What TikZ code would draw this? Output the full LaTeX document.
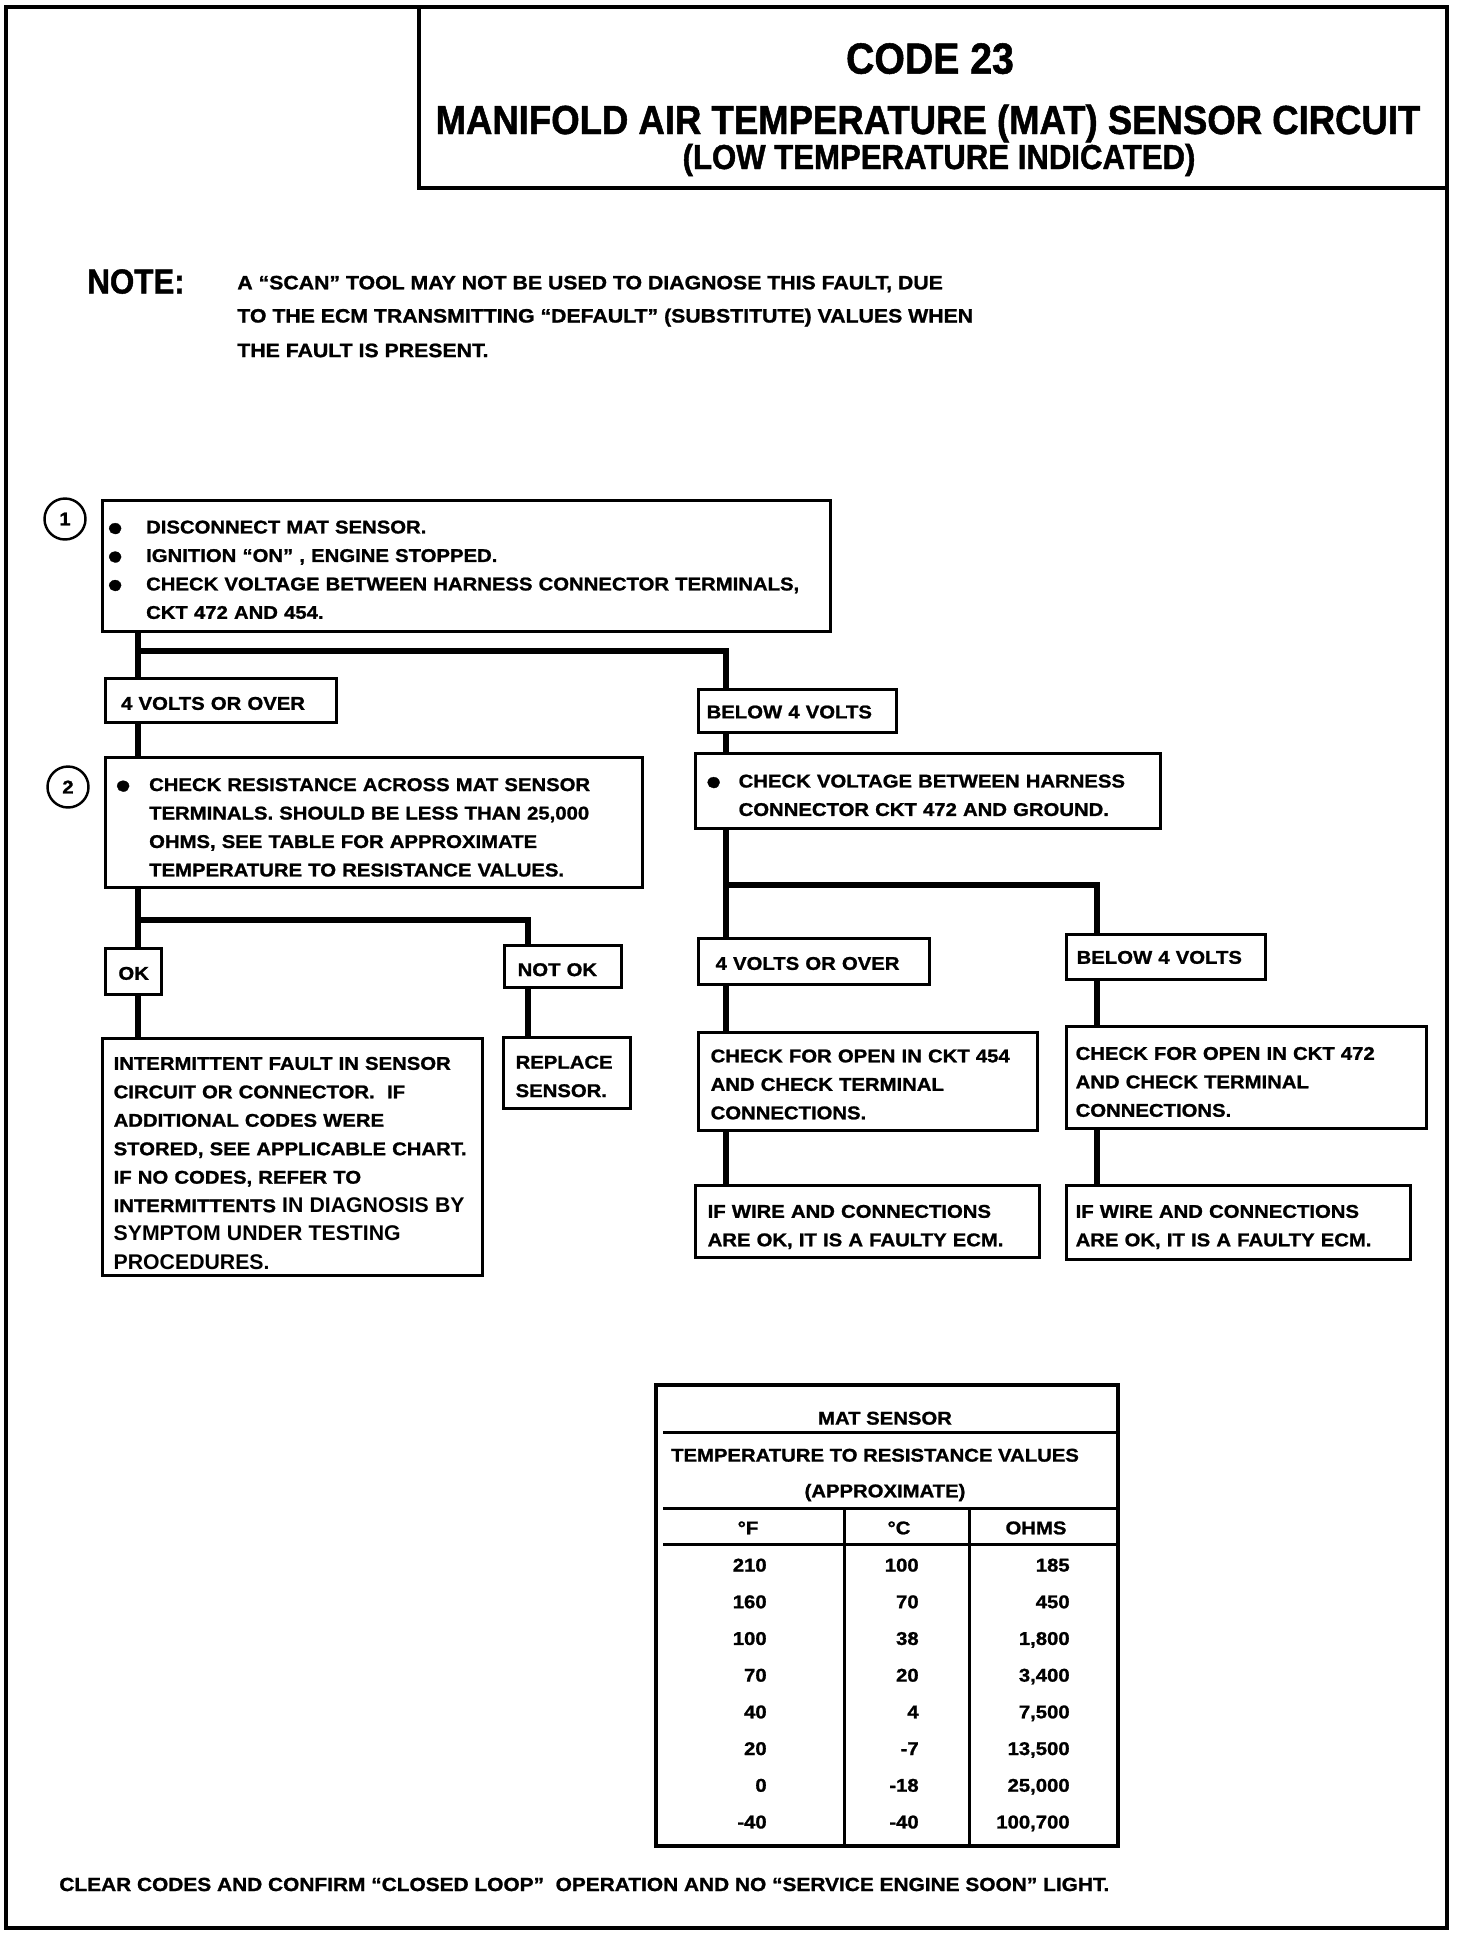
\documentclass[tikz,border=0pt]{standalone}
\usepackage{fontspec}
\usepackage{graphicx}
\usepackage{tikz}
\usetikzlibrary{positioning}
\setmainfont{Liberation Sans}
\newfontfamily\bodyfont{Liberation Sans}[FakeStretch=1.10, FakeBold=1.2]
\newfontfamily\titlefont{Liberation Sans}[FakeStretch=0.90, FakeBold=1.2]
\newcommand{\bodytext}{\bodyfont\bfseries\fontsize{10.5pt}{16.2pt}\selectfont}
\newcommand{\plaintext}{\normalfont\bfseries\fontsize{12.1pt}{16.2pt}\selectfont}
\newcommand{\blt}[2]{\makebox[#1][l]{\hspace{#2}\raisebox{-1.3pt}{\fontsize{14.5pt}{14.5pt}\selectfont ●}}}
\newcommand{\padtop}[1]{\rule{0pt}{#1}}

\begin{document}
\begin{tikzpicture}[x=0.02cm,y=-0.02cm,
	main box/.style={draw, line width=1.9pt, anchor=north west, inner ysep=0pt, inner xsep=0.22cm, align=left, font=\bodytext},
	step num/.style={circle, draw, line width=1.4pt, minimum size=0.82cm, inner sep=0pt, font=\bodytext},
	link/.style={line width=3.4pt},
	cell/.style={anchor=base, inner sep=0pt, font=\bodytext},
	num cell/.style={anchor=base east, inner sep=0pt, font=\bodytext}]

	\fill[white] (0,0) rectangle (1472,1934);
	\useasboundingbox (0,0) rectangle (1472,1934);

	% frame and title
	\draw[line width=2.4pt] (6,7) rectangle (1447,1928);
	\draw[line width=2pt] (419,7) -- (419,188) -- (1447,188);
	\node[anchor=base, inner sep=0pt, font=\titlefont\bfseries\fontsize{24.8pt}{26pt}\selectfont](code) at (930,73.6){CODE 23};
	\node[anchor=base, inner sep=0pt, font=\titlefont\bfseries\fontsize{23.1pt}{25pt}\selectfont](title) at (928,134){MANIFOLD AIR TEMPERATURE (MAT) SENSOR CIRCUIT};
	\node[anchor=base, inner sep=0pt, font=\titlefont\bfseries\fontsize{19.7pt}{21pt}\selectfont](subtitle) at (939,169){(LOW TEMPERATURE INDICATED)};

	% note
	\node[anchor=base west, inner sep=0pt, font=\titlefont\bfseries\fontsize{19.8pt}{22pt}\selectfont](note) at (87,293.5){NOTE:};
	\node[anchor=base west, inner sep=0pt, font=\bodytext\fontsize{11pt}{16pt}\selectfont](N1) at (237,289.3){A “SCAN” TOOL MAY NOT BE USED TO DIAGNOSE THIS FAULT, DUE};
	\node[anchor=base west, inner sep=0pt, font=\bodytext\fontsize{11pt}{16pt}\selectfont](N2) at (237,322.5){TO THE ECM TRANSMITTING “DEFAULT” (SUBSTITUTE) VALUES WHEN};
	\node[anchor=base west, inner sep=0pt, font=\bodytext\fontsize{11pt}{16pt}\selectfont](N3) at (237,357.1){THE FAULT IS PRESENT.};

	% step 1
	\node[step num](C1) at (65,519){1};
	\node[main box, minimum width=14.56cm, minimum height=2.62cm, text width=14.12cm](S1) at (101,499){%
		\padtop{11.5pt}\blt{0.65cm}{-0.14cm}DISCONNECT MAT SENSOR.\\
		\blt{0.65cm}{-0.14cm}IGNITION “ON” , ENGINE STOPPED.\\
		\blt{0.65cm}{-0.14cm}CHECK VOLTAGE BETWEEN HARNESS CONNECTOR TERMINALS,\\
		\hspace*{0.65cm}CKT 472 AND 454.};
	\node[main box, minimum width=4.62cm, minimum height=0.88cm, inner xsep=0.31cm, text width=4.00cm](V1) at (104,677){\padtop{10.5pt}4 VOLTS OR OVER};
	\node[main box, minimum width=3.96cm, minimum height=0.86cm, inner xsep=0.16cm, text width=3.64cm](B1) at (697,688){\padtop{8.3pt}BELOW 4 VOLTS};

	% step 2
	\node[step num](C2) at (68,787){2};
	\node[main box, minimum width=10.74cm, minimum height=2.60cm, inner xsep=0.20cm, text width=10.34cm](S2) at (104,756){%
		\padtop{12.7pt}\blt{0.67cm}{-0.02cm}CHECK RESISTANCE ACROSS MAT SENSOR\\
		\hspace*{0.67cm}TERMINALS. SHOULD BE LESS THAN 25,000\\
		\hspace*{0.67cm}OHMS, SEE TABLE FOR APPROXIMATE\\
		\hspace*{0.67cm}TEMPERATURE TO RESISTANCE VALUES.};
	\node[main box, minimum width=9.30cm, minimum height=1.50cm, text width=8.86cm](G1) at (694,752){%
		\padtop{12.1pt}\blt{0.64cm}{-0.03cm}CHECK VOLTAGE BETWEEN HARNESS\\
		\hspace*{0.64cm}CONNECTOR CKT 472 AND GROUND.};

	% left branch
	\node[main box, minimum width=1.12cm, minimum height=0.92cm, inner xsep=0pt, align=center](OK) at (104,947){\padtop{9.3pt}OK};
	\node[main box, minimum width=2.34cm, minimum height=0.84cm, inner xsep=0.26cm, text width=1.82cm](NOK) at (503,944){\padtop{10.8pt}NOT OK};
	\node[main box, minimum width=7.60cm, minimum height=4.74cm, text width=7.16cm](INT) at (101,1037){%
		\padtop{14.1pt}INTERMITTENT FAULT IN SENSOR\\
		CIRCUIT OR CONNECTOR.\ \ IF\\
		ADDITIONAL CODES WERE\\
		STORED, SEE APPLICABLE CHART.\\
		IF NO CODES, REFER TO\\
		INTERMITTENTS {\plaintext IN DIAGNOSIS BY}\\
		{\plaintext SYMPTOM UNDER TESTING}\\
		{\plaintext PROCEDURES.}};
	\node[main box, minimum width=2.54cm, minimum height=1.42cm, inner xsep=0.24cm, text width=2.06cm](REP) at (502,1036){\padtop{11.1pt}REPLACE\\SENSOR.};

	% right branch
	\node[main box, minimum width=4.62cm, minimum height=0.92cm, inner xsep=0.34cm, text width=3.94cm](V2) at (697,937){\padtop{9.4pt}4 VOLTS OR OVER};
	\node[main box, minimum width=3.98cm, minimum height=0.90cm, inner xsep=0.20cm, text width=3.58cm](B2) at (1065,933){\padtop{7.6pt}BELOW 4 VOLTS};
	\node[main box, minimum width=6.78cm, minimum height=1.96cm, inner xsep=0.24cm, text width=6.30cm](O454) at (697,1031){%
		\padtop{10.5pt}CHECK FOR OPEN IN CKT 454\\
		AND CHECK TERMINAL\\
		CONNECTIONS.};
	\node[main box, minimum width=7.20cm, minimum height=2.04cm, inner xsep=0.18cm, text width=6.84cm](O472) at (1065,1025){%
		\padtop{12.2pt}CHECK FOR OPEN IN CKT 472\\
		AND CHECK TERMINAL\\
		CONNECTIONS.};
	\node[main box, minimum width=6.88cm, minimum height=1.44cm, inner xsep=0.24cm, text width=6.40cm](E1) at (694,1184){%
		\padtop{13.4pt}IF WIRE AND CONNECTIONS\\
		ARE OK, IT IS A FAULTY ECM.};
	\node[main box, minimum width=6.88cm, minimum height=1.48cm, inner xsep=0.18cm, text width=6.52cm](E2) at (1065,1184){%
		\padtop{12.3pt}IF WIRE AND CONNECTIONS\\
		ARE OK, IT IS A FAULTY ECM.};

	% connectors
	\coordinate (J1) at (138,651);
	\coordinate (J2) at (138,920);
	\coordinate (J3) at (726,885);
	\coordinate (N) at (528,0);
	\coordinate (R) at (726,0);
	\coordinate (RR) at (1097,0);
	\draw[link] (S1.south -| J1) -- (V1.north -| J1);
	\draw[link] (J1) -| (B1.north -| R);
	\draw[link] (V1.south -| J1) -- (S2.north -| J1);
	\draw[link] (B1.south -| R) -- (G1.north -| R);
	\draw[link] (S2.south -| J1) -- (OK.north -| J1);
	\draw[link] (J2) -| (NOK.north -| N);
	\draw[link] (OK.south -| J1) -- (INT.north -| J1);
	\draw[link] (NOK.south -| N) -- (REP.north -| N);
	\draw[link] (G1.south -| R) -- (V2.north -| R);
	\draw[link] (J3) -| (B2.north -| RR);
	\draw[link] (V2.south -| R) -- (O454.north -| R);
	\draw[link] (B2.south -| RR) -- (O472.north -| RR);
	\draw[link] (O454.south -| R) -- (E1.north -| R);
	\draw[link] (O472.south -| RR) -- (E2.north -| RR);

	% table
	\draw[line width=1.8pt] (656,1385) rectangle (1118,1846);
	\draw[line width=1.7pt] (663,1432) -- (1118,1432);
	\draw[line width=1.7pt] (663,1508) -- (1118,1508);
	\draw[line width=1.7pt] (663,1544) -- (1118,1544);
	\draw[line width=1.7pt] (844,1508) -- (844,1846);
	\draw[line width=1.7pt] (969,1508) -- (969,1846);
	\node[cell](TH1) at (885,1424.6){MAT SENSOR};
	\node[cell](TH2) at (875,1461.6){TEMPERATURE TO RESISTANCE VALUES};
	\node[cell](TH3) at (885,1497.3){(APPROXIMATE)};
	\node[cell](HF) at (748,1534.3){°F};
	\node[cell](HC) at (899,1534.3){°C};
	\node[cell](HR) at (1036,1534.3){OHMS};
	\node[num cell](F1) at (767,1571.5){210}; \node[num cell](D1) at (919,1571.5){100}; \node[num cell](R1) at (1070,1571.5){185};
	\node[num cell](F2) at (767,1608.2){160}; \node[num cell](D2) at (919,1608.2){70};  \node[num cell](R2) at (1070,1608.2){450};
	\node[num cell](F3) at (767,1644.9){100}; \node[num cell](D3) at (919,1644.9){38};  \node[num cell](R3) at (1070,1644.9){1,800};
	\node[num cell](F4) at (767,1681.6){70};  \node[num cell](D4) at (919,1681.6){20};  \node[num cell](R4) at (1070,1681.6){3,400};
	\node[num cell](F5) at (767,1718.3){40};  \node[num cell](D5) at (919,1718.3){4};   \node[num cell](R5) at (1070,1718.3){7,500};
	\node[num cell](F6) at (767,1755.0){20};  \node[num cell](D6) at (919,1755.0){-7};  \node[num cell](R6) at (1070,1755.0){13,500};
	\node[num cell](F7) at (767,1791.7){0};   \node[num cell](D7) at (919,1791.7){-18}; \node[num cell](R7) at (1070,1791.7){25,000};
	\node[num cell](F8) at (767,1828.4){-40}; \node[num cell](D8) at (919,1828.4){-40}; \node[num cell](R8) at (1070,1828.4){100,700};

	% footer
	\node[anchor=base west, inner sep=0pt, font=\bodytext\fontsize{10.8pt}{16pt}\selectfont](clear) at (59,1891){CLEAR CODES AND CONFIRM “CLOSED LOOP”\ \ OPERATION AND NO “SERVICE ENGINE SOON” LIGHT.};
\end{tikzpicture}
\end{document}
